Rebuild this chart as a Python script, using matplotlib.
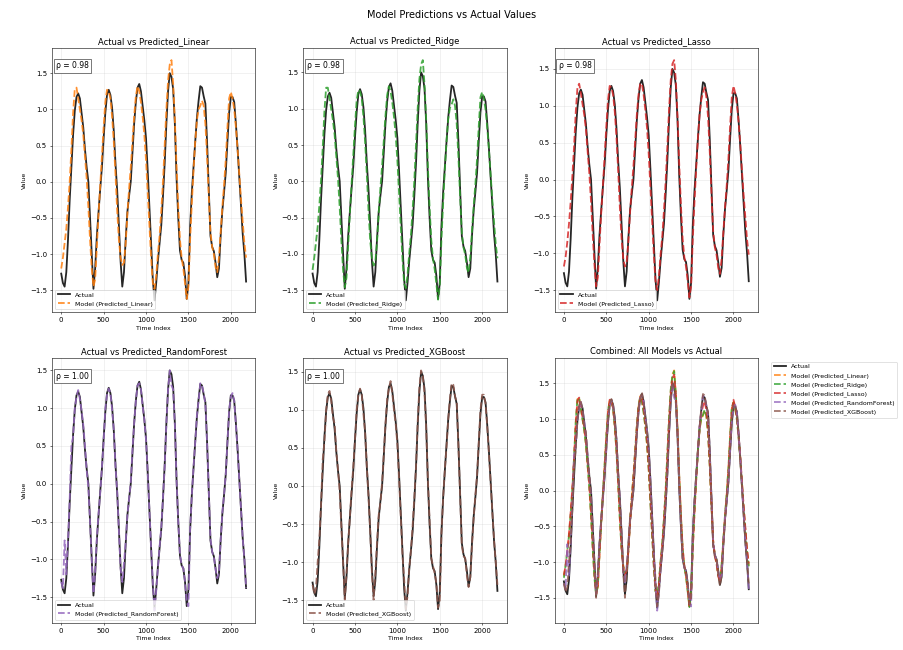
import numpy as np
import matplotlib
matplotlib.use('Agg')
import matplotlib.pyplot as plt

# time index sampled every 20 steps
time_index = np.arange(0, 2200, 20)

actual = [
    -1.27, -1.40, -1.45, -1.25, -0.80, -0.25, 0.20, 0.65, 0.98, 1.17,
    1.22, 1.15, 0.95, 0.75, 0.45, 0.20, 0.00, -0.50, -1.00, -1.48,
    -1.20, -0.75, -0.42, -0.10, 0.20, 0.60, 0.95, 1.20, 1.27, 1.20,
    1.02, 0.70, 0.25, -0.12, -0.60, -1.10, -1.45, -1.25, -0.80, -0.42,
    -0.20, 0.00, 0.40, 0.80, 1.10, 1.30, 1.35, 1.25, 1.05, 0.85,
    0.60, 0.15, -0.35, -0.85, -1.35, -1.64, -1.40, -1.10, -0.85, -0.60,
    -0.20, 0.25, 0.80, 1.25, 1.50, 1.45, 1.28, 0.80, 0.05, -0.50,
    -0.95, -1.08, -1.12, -1.30, -1.62, -1.40, -0.62, -0.15, 0.20, 0.55,
    0.88, 1.12, 1.32, 1.30, 1.18, 1.08, 0.55, -0.10, -0.75, -0.90,
    -0.96, -1.12, -1.32, -1.20, -0.75, -0.40, -0.15, 0.12, 0.55, 0.95,
    1.17, 1.17, 1.10, 0.80, 0.45, 0.06, -0.33, -0.72, -1.00, -1.38,
]

pred_linear = [
    -1.20, -1.05, -0.85, -0.65, -0.35, 0.00, 0.45, 0.95, 1.28, 1.30,
    1.15, 1.00, 0.85, 0.65, 0.35, 0.05, -0.35, -0.80, -1.20, -1.45,
    -1.35, -0.90, -0.45, -0.05, 0.35, 0.75, 1.10, 1.27, 1.25, 1.15,
    0.90, 0.55, 0.10, -0.40, -0.80, -1.05, -1.15, -1.12, -0.85, -0.45,
    -0.10, 0.20, 0.55, 0.90, 1.18, 1.32, 1.25, 1.10, 0.90, 0.65,
    0.30, -0.15, -0.60, -1.05, -1.40, -1.48, -1.30, -1.00, -0.75, -0.40,
    0.00, 0.50, 1.00, 1.40, 1.62, 1.68, 1.35, 0.85, 0.20, -0.35,
    -0.80, -1.05, -1.20, -1.40, -1.62, -1.45, -0.80, -0.30, 0.15, 0.55,
    0.85, 1.00, 1.05, 1.12, 1.05, 0.80, 0.35, -0.20, -0.70, -0.90,
    -1.00, -1.18, -1.25, -1.05, -0.70, -0.35, -0.05, 0.30, 0.75, 1.15,
    1.24, 1.15, 1.00, 0.75, 0.45, 0.10, -0.25, -0.55, -0.85, -1.05,
]

pred_ridge = [
    -1.22, -1.05, -0.84, -0.63, -0.33, 0.02, 0.47, 0.97, 1.29, 1.29,
    1.14, 0.99, 0.84, 0.64, 0.34, 0.04, -0.36, -0.82, -1.22, -1.46,
    -1.33, -0.88, -0.44, -0.04, 0.36, 0.76, 1.11, 1.26, 1.24, 1.14,
    0.89, 0.54, 0.09, -0.41, -0.82, -1.06, -1.16, -1.11, -0.84, -0.44,
    -0.09, 0.21, 0.56, 0.91, 1.19, 1.31, 1.24, 1.09, 0.89, 0.64,
    0.29, -0.16, -0.61, -1.06, -1.41, -1.47, -1.29, -0.99, -0.74, -0.39,
    0.01, 0.51, 1.01, 1.41, 1.61, 1.67, 1.34, 0.84, 0.19, -0.36,
    -0.81, -1.06, -1.21, -1.41, -1.63, -1.44, -0.79, -0.29, 0.16, 0.56,
    0.86, 1.01, 1.06, 1.13, 1.04, 0.79, 0.34, -0.21, -0.71, -0.91,
    -1.01, -1.19, -1.26, -1.04, -0.69, -0.34, -0.04, 0.31, 0.76, 1.16,
    1.23, 1.14, 0.99, 0.74, 0.44, 0.09, -0.26, -0.56, -0.86, -1.06,
]

pred_lasso = [
    -1.18, -1.05, -0.85, -0.60, -0.30, 0.05, 0.45, 0.92, 1.25, 1.30,
    1.17, 1.02, 0.88, 0.68, 0.38, 0.08, -0.30, -0.75, -1.15, -1.45,
    -1.33, -0.88, -0.45, -0.08, 0.30, 0.72, 1.08, 1.27, 1.25, 1.15,
    0.92, 0.58, 0.12, -0.38, -0.80, -1.08, -1.18, -1.12, -0.85, -0.45,
    -0.12, 0.18, 0.52, 0.88, 1.15, 1.30, 1.30, 1.15, 0.95, 0.70,
    0.35, -0.10, -0.55, -1.00, -1.38, -1.50, -1.32, -1.02, -0.77, -0.42,
    -0.02, 0.45, 0.95, 1.35, 1.57, 1.62, 1.35, 0.85, 0.20, -0.35,
    -0.80, -1.05, -1.18, -1.38, -1.60, -1.45, -0.80, -0.30, 0.15, 0.55,
    0.88, 1.08, 1.18, 1.25, 1.12, 0.85, 0.38, -0.18, -0.70, -0.92,
    -1.02, -1.20, -1.28, -1.08, -0.72, -0.38, -0.08, 0.28, 0.72, 1.12,
    1.27, 1.17, 1.02, 0.78, 0.48, 0.12, -0.22, -0.52, -0.82, -1.02,
]

pred_rf = [
    -1.30, -1.38, -0.75, -1.20, -0.75, -0.20, 0.50, 0.62, 1.00, 1.15,
    1.24, 1.12, 0.97, 0.78, 0.50, 0.18, -0.05, -0.50, -1.02, -1.45,
    -1.18, -0.72, -0.40, -0.12, 0.22, 0.55, 1.00, 1.18, 1.26, 1.20,
    0.98, 0.72, 0.22, -0.10, -0.62, -1.12, -1.30, -1.05, -0.78, -0.42,
    -0.20, 0.02, 0.45, 0.80, 1.10, 1.30, 1.33, 1.25, 1.03, 0.85,
    0.58, 0.15, -0.35, -0.85, -1.30, -1.68, -1.42, -1.12, -0.83, -0.58,
    -0.18, 0.22, 0.80, 1.25, 1.50, 1.30, 1.25, 0.78, 0.05, -0.50,
    -0.93, -1.08, -1.12, -1.30, -1.57, -1.62, -0.60, -0.15, 0.22, 0.55,
    0.90, 1.10, 1.33, 1.30, 1.20, 1.05, 0.55, -0.10, -0.73, -0.90,
    -0.97, -1.13, -1.25, -1.18, -0.75, -0.38, -0.15, 0.12, 0.55, 0.97,
    1.15, 1.20, 1.10, 0.78, 0.45, 0.05, -0.33, -0.72, -1.00, -1.38,
]

pred_xgb = [
    -1.30, -1.42, -1.35, -1.00, -0.70, -0.25, 0.35, 0.58, 1.00, 1.20,
    1.25, 1.12, 0.90, 0.82, 0.45, 0.22, -0.08, -0.55, -1.00, -1.50,
    -1.15, -0.75, -0.42, -0.05, 0.25, 0.60, 1.00, 1.20, 1.28, 1.20,
    0.95, 0.70, 0.25, -0.15, -0.60, -1.15, -1.50, -1.15, -0.75, -0.38,
    -0.22, 0.05, 0.42, 0.82, 1.15, 1.28, 1.38, 1.22, 1.00, 0.82,
    0.55, 0.10, -0.40, -0.90, -1.22, -1.62, -1.45, -1.08, -0.85, -0.52,
    -0.15, 0.25, 0.85, 1.30, 1.52, 1.45, 1.22, 0.75, 0.08, -0.45,
    -0.95, -1.05, -1.15, -1.28, -1.60, -1.52, -0.62, -0.15, 0.22, 0.52,
    0.88, 1.15, 1.35, 1.33, 1.18, 1.10, 0.52, -0.12, -0.78, -0.92,
    -0.95, -1.18, -1.33, -1.20, -0.78, -0.42, -0.12, 0.15, 0.58, 1.00,
    1.20, 1.20, 1.08, 0.78, 0.42, 0.05, -0.35, -0.70, -1.00, -1.30,
]

model_names = ['Predicted_Linear', 'Predicted_Ridge', 'Predicted_Lasso',
               'Predicted_RandomForest', 'Predicted_XGBoost']
model_preds = [pred_linear, pred_ridge, pred_lasso, pred_rf, pred_xgb]
rho_values = [0.98, 0.98, 0.98, 1.00, 1.00]
colors = ['tab:orange', 'tab:green', 'tab:red', 'tab:purple', 'tab:brown']

fig, axes = plt.subplots(2, 3, figsize=(18.08, 13), dpi=50)
fig.subplots_adjust(left=0.0575, right=0.8385, bottom=0.042, top=0.926,
                    wspace=0.236, hspace=0.174)
axes = axes.flatten()

for i, (name, pred) in enumerate(zip(model_names, model_preds)):
    ax = axes[i]
    ax.plot(time_index, actual, color='black', lw=2.6, alpha=0.85, label='Actual')
    ax.plot(time_index, pred, '--', color=colors[i], lw=2.6, alpha=0.85,
            label='Model (%s)' % name)
    ax.set_title('Actual vs %s' % name, fontsize=12)
    ax.set_xlabel('Time Index', fontsize=9)
    ax.set_ylabel('Value', fontsize=9)
    ax.grid(True, alpha=0.3)
    ax.legend(loc='lower left', fontsize=9)
    ax.text(0.02, 0.95, 'ρ = %.2f' % rho_values[i], transform=ax.transAxes,
            fontsize=11, va='top',
            bbox=dict(boxstyle='square,pad=0.3', facecolor='white', edgecolor='#444444'))

# combined panel
ax = axes[5]
ax.plot(time_index, actual, color='black', lw=2.6, alpha=0.85, label='Actual')
for i, (name, pred) in enumerate(zip(model_names, model_preds)):
    ax.plot(time_index, pred, '--', color=colors[i], lw=2.6, alpha=0.8,
            label='Model (%s)' % name)
ax.set_title('Combined: All Models vs Actual', fontsize=12)
ax.set_xlabel('Time Index', fontsize=9)
ax.set_ylabel('Value', fontsize=9)
ax.grid(True, alpha=0.3)
ax.legend(bbox_to_anchor=(1.05, 1), loc='upper left', fontsize=9)

fig.suptitle('Model Predictions vs Actual Values', fontsize=14, y=0.985)

plt.savefig('out.png', dpi=50)
